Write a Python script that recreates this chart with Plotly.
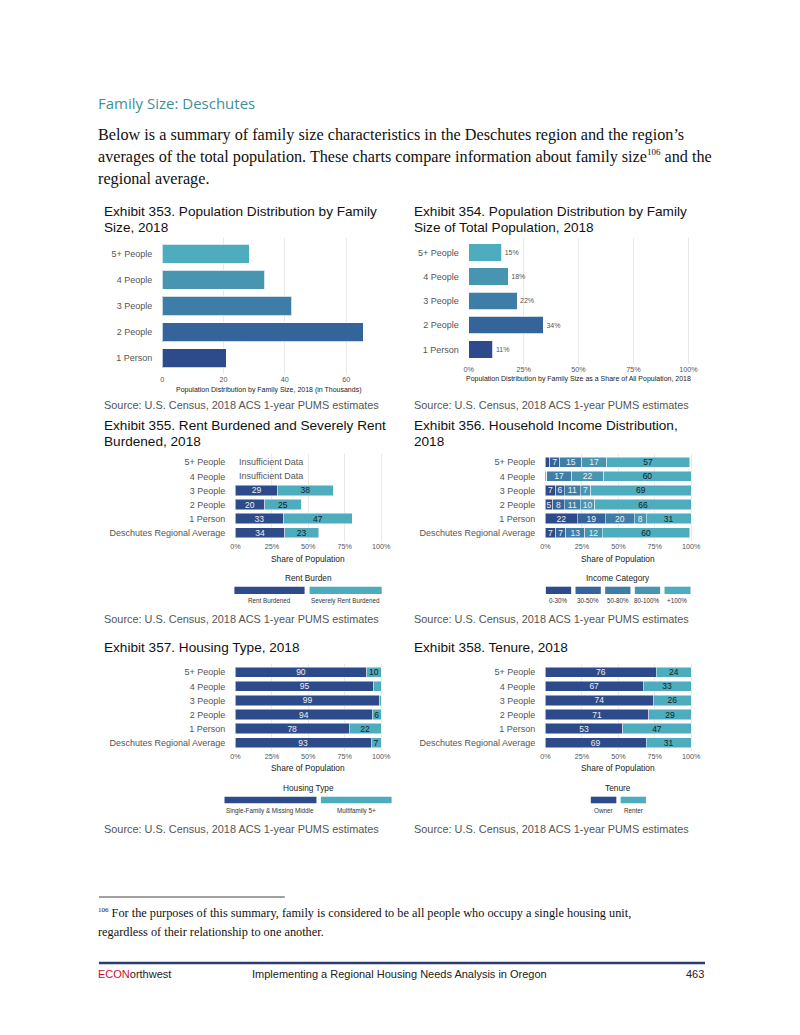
import plotly.graph_objects as go

W, H = 800, 1035


def X(p):
    return p / W


def Y(p):
    return 1 - p / H


# ---------------- data ----------------
sizes = ["1 Person", "2 People", "3 People", "4 People", "5+ People"]
pop_thousands = [20.9, 65.6, 42.3, 33.5, 28.4]
pop_share_pct = [11, 34, 22, 18, 15]
pop_ticks = [0, 20, 40, 60]

groups = ["Deschutes Regional Average", "1 Person", "2 People", "3 People", "4 People", "5+ People"]

rent_cats = ["Rent Burdened", "Severely Rent Burdened"]
rent_burdened = [34, 33, 20, 29, None, None]
rent_severe = [23, 47, 25, 38, None, None]
insufficient_groups = ["4 People", "5+ People"]

income_cats = ["0-30%", "30-50%", "50-80%", "80-100%", "+100%"]
inc_0_30 = [7, 22, 5, 7, 1, 3]
inc_30_50 = [7, 19, 8, 6, 0, 7]
inc_50_80 = [13, 20, 11, 11, 17, 15]
inc_80_100 = [12, 8, 10, 7, 22, 17]
inc_100p = [60, 31, 66, 69, 60, 57]

housing_cats = ["Single-Family & Missing Middle", "Multifamily 5+"]
hs_single = [93, 78, 94, 99, 95, 90]
hs_multi = [7, 22, 6, 1, 5, 10]

tenure_cats = ["Owner", "Renter"]
ten_owner = [69, 53, 71, 74, 67, 76]
ten_renter = [31, 47, 29, 26, 33, 24]

pct_ticks = [0, 25, 50, 75, 100]

# ---------------- style ----------------
FONT = "Liberation Sans"
SERIF = "Liberation Serif"
C5 = ["#2d4b8a", "#35649a", "#3e7da7", "#4795b1", "#4eacbf"]
DARK, LIGHT = C5[0], C5[4]
TXT_LIGHT = "#eeeeee"
TXT_DARK = "#1a1a1a"
GRID = "#e9e9e9"
TICK = "#555555"

fig = go.Figure()

# Exhibit 353
fig.add_trace(go.Bar(
    x=pop_thousands, y=sizes, orientation="h", width=0.73,
    marker=dict(color=C5, line=dict(color="rgba(255,255,255,0.75)", width=1)),
    xaxis="x", yaxis="y", showlegend=False, hoverinfo="skip"))

# Exhibit 354
fig.add_trace(go.Bar(
    x=pop_share_pct, y=sizes, orientation="h", width=0.73,
    marker=dict(color=C5, line=dict(color="rgba(255,255,255,0.75)", width=1)),
    text=[f"{v}%" for v in pop_share_pct], textposition="outside",
    textfont=dict(family=FONT, size=7, color="#555555"), cliponaxis=False,
    xaxis="x2", yaxis="y2", showlegend=False, hoverinfo="skip"))


def stacked(series, colors, tcolors, ax, ay, min_label):
    for vals, col, tc in zip(series, colors, tcolors):
        txt = [None if (v is None or v < min_label) else str(v) for v in vals]
        fig.add_trace(go.Bar(
            x=vals, y=groups, orientation="h", width=0.73,
            marker=dict(color=col, line=dict(color="rgba(255,255,255,0.8)", width=0.6)),
            text=txt, textposition="inside", insidetextanchor="middle",
            textangle=0, constraintext="none",
            textfont=dict(family=FONT, size=8.5, color=tc),
            xaxis=ax, yaxis=ay, showlegend=False, hoverinfo="skip"))


stacked([rent_burdened, rent_severe], [DARK, LIGHT], [TXT_LIGHT, TXT_DARK], "x3", "y3", 1)
stacked([inc_0_30, inc_30_50, inc_50_80, inc_80_100, inc_100p], C5,
        [TXT_LIGHT] * 4 + [TXT_DARK], "x4", "y4", 5)
stacked([hs_single, hs_multi], [DARK, LIGHT], [TXT_LIGHT, TXT_DARK], "x5", "y5", 6)
stacked([ten_owner, ten_renter], [DARK, LIGHT], [TXT_LIGHT, TXT_DARK], "x6", "y6", 1)


def xax(x0, x1, rng, ticks, fmt, anchor):
    return dict(domain=[X(x0), X(x1)], range=rng, tickvals=ticks,
                ticktext=[fmt(t) for t in ticks], showgrid=True, gridcolor=GRID,
                gridwidth=1, zeroline=False, showline=False, ticks="",
                tickfont=dict(family=FONT, size=7.2, color=TICK), anchor=anchor,
                fixedrange=True)


def yax(top, bottom, cats, anchor):
    return dict(domain=[Y(bottom), Y(top)], type="category", categoryorder="array",
                categoryarray=cats, range=[-0.6, len(cats) - 0.4], showgrid=False,
                zeroline=False, showline=False, ticks="", ticklabelstandoff=9,
                tickfont=dict(family=FONT, size=9, color=TICK), anchor=anchor,
                fixedrange=True)


pctfmt = lambda t: f"{t}%"
layout_axes = dict(
    xaxis=xax(159, 373, [0, 69], pop_ticks, str, "y"),
    yaxis=yax(238, 374, sizes, "x"),
    xaxis2=xax(469, 700, [0, 104], pct_ticks, pctfmt, "y2"),
    yaxis2=yax(237.8, 363.9, sizes, "x2"),
    xaxis3=xax(233, 386.4, [0, 104], pct_ticks, pctfmt, "y3"),
    yaxis3=yax(453.8, 541.2, groups, "x3"),
    xaxis4=xax(546.5, 700, [0, 104], pct_ticks, pctfmt, "y4"),
    yaxis4=yax(453.8, 541.2, groups, "x4"),
    xaxis5=xax(233, 386.4, [0, 104], pct_ticks, pctfmt, "y5"),
    yaxis5=yax(663.8, 751.2, groups, "x5"),
    xaxis6=xax(546.5, 700, [0, 104], pct_ticks, pctfmt, "y6"),
    yaxis6=yax(663.8, 751.2, groups, "x6"),
)

ann = []


def text(x, y, s, size, color="#222222", family=FONT, xanchor="left"):
    ann.append(dict(x=X(x), y=Y(y), xref="paper", yref="paper", text=s,
                    showarrow=False, xanchor=xanchor, yanchor="middle",
                    borderpad=0, font=dict(family=family, size=size, color=color)))


SUP = '<sup><span style="font-size:9px">106</span></sup>'

# page header & body
text(93, 103, "Family Size: Deschutes", 15, "#3f8f99", "Open Sans")
text(93, 135, "Below is a summary of family size characteristics in the Deschutes region and the region\u2019s", 16.2, "#111111", SERIF)
text(93, 157, "averages of the total population. These charts compare information about family size" + SUP + " and the", 16.2, "#111111", SERIF)
text(93, 179, "regional average.", 16.2, "#111111", SERIF)

# exhibit titles
text(99, 211, "Exhibit 353. Population Distribution by Family", 13.6, "#111111")
text(99, 227, "Size, 2018", 13.6, "#111111")
text(413, 211, "Exhibit 354. Population Distribution by Family", 13.6, "#111111")
text(413, 227, "Size of Total Population, 2018", 13.6, "#111111")
text(99, 425, "Exhibit 355. Rent Burdened and Severely Rent", 13.6, "#111111")
text(99, 441, "Burdened, 2018", 13.6, "#111111")
text(413, 425, "Exhibit 356. Household Income Distribution,", 13.6, "#111111")
text(413, 441, "2018", 13.6, "#111111")
text(99, 647, "Exhibit 357. Housing Type, 2018", 13.6, "#111111")
text(413, 647, "Exhibit 358. Tenure, 2018", 13.6, "#111111")

SRC = "Source: U.S. Census, 2018 ACS 1-year PUMS estimates"
for sx, sy in [(99, 405), (413, 405), (99, 619), (413, 619), (99, 829), (413, 829)]:
    text(sx, sy, SRC, 10.9, "#555555")

# axis titles
text(266, 389.5, "Population Distribution by Family Size, 2018 (in Thousands)", 7, "#222222", xanchor="center")
text(580, 379, "Population Distribution by Family Size as a Share of All Population, 2018", 7, "#222222", xanchor="center")
for cx, cy in [(306.5, 558.5), (620, 558.5), (306.5, 768.5), (620, 768.5)]:
    text(cx, cy, "Share of Population", 8.4, "#222222", xanchor="center")

# insufficient data notes
for g in insufficient_groups:
    ann.append(dict(x=0, y=g, xref="x3", yref="y3", text="Insufficient Data",
                    showarrow=False, xanchor="left", yanchor="middle", xshift=2,
                    font=dict(family=FONT, size=9, color="#555555")))

# legends (drawn as ggplot-style key strips)
shapes = []


def legend(title, tx, ty, keys, labels, colors, y0, y1, ly):
    text(tx, ty, title, 8.3, "#222222", xanchor="center")
    for (k0, k1), lab, col in zip(keys, labels, colors):
        shapes.append(dict(type="rect", xref="paper", yref="paper",
                           x0=X(k0), x1=X(k1), y0=Y(y1), y1=Y(y0),
                           fillcolor=col, line=dict(width=0)))
        text((k0 + k1) / 2, ly, lab, 6.3, "#333333", xanchor="center")


legend("Rent Burden", 306.5, 578, [(232, 303), (308, 381)], rent_cats,
       [DARK, LIGHT], 586.7, 594, 600.7)
legend("Income Category", 620, 578,
       [(547, 572.6), (577, 602.6), (607, 632.6), (637, 662.6), (667, 693.3)],
       income_cats, C5, 586.7, 594, 600.7)
legend("Housing Type", 306.5, 788.3, [(222, 315), (319.5, 391)], housing_cats,
       [DARK, LIGHT], 796.7, 803.3, 810.7)
legend("Tenure", 620, 788.3, [(592.5, 618.3), (622.6, 648.3)], tenure_cats,
       [DARK, LIGHT], 796.7, 803.3, 810.7)

# footnote
shapes.append(dict(type="line", xref="paper", yref="paper", x0=X(95), x1=X(283),
                   y0=Y(897), y1=Y(897), line=dict(color="#111111", width=0.8)))
text(93, 913, '<sup><span style="font-size:7px">106</span></sup> For the purposes of this summary, family is considered to be all people who occupy a single housing unit,', 12.3, "#111111", SERIF)
text(93, 932, "regardless of their relationship to one another.", 12.3, "#111111", SERIF)

# footer
shapes.append(dict(type="line", xref="paper", yref="paper", x0=X(95), x1=X(708),
                   y0=Y(963), y1=Y(963), line=dict(color="#2b3e6d", width=2.5)))
text(93, 974, '<span style="color:#c8102e">ECON</span>orthwest', 11, "#222222")
text(399, 974, "Implementing a Regional Housing Needs Analysis in Oregon", 11, "#222222", xanchor="center")
text(708, 974, "463", 11, "#222222", xanchor="right")

fig.update_layout(
    width=W, height=H, margin=dict(l=0, r=0, t=0, b=0),
    paper_bgcolor="white", plot_bgcolor="white", barmode="stack",
    bargap=0.27, annotations=ann, shapes=shapes, showlegend=False,
    **layout_axes)

fig.write_html(
    "out.html", config=dict(displayModeBar=False),
    post_script="document.body.style.margin='0px';document.body.style.overflow='hidden';")
